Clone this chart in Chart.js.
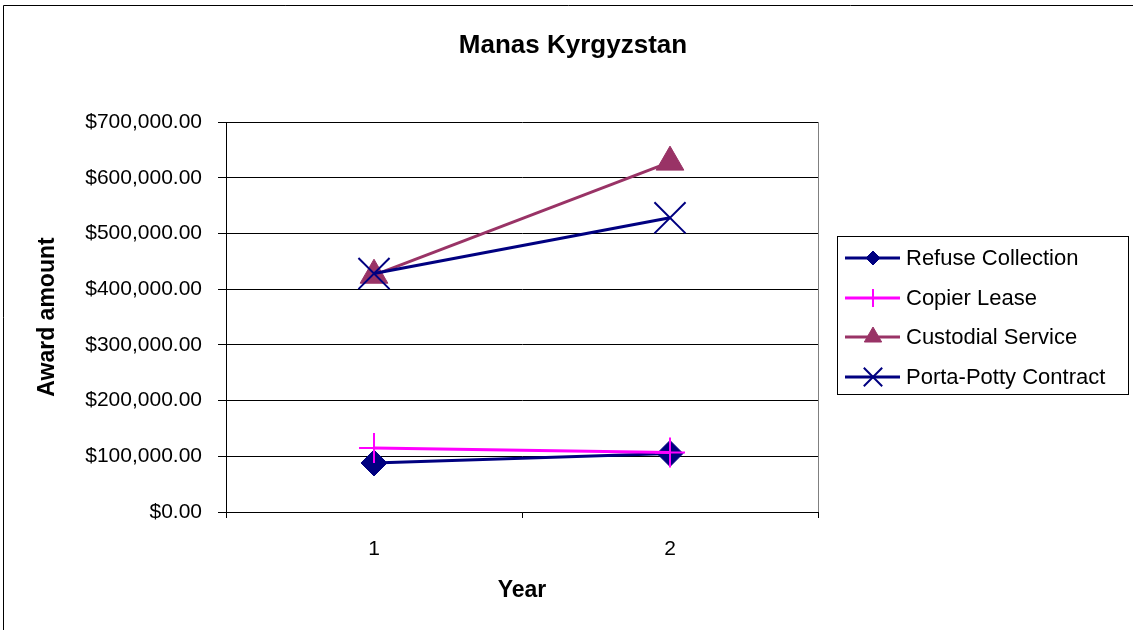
<!DOCTYPE html>
<html>
<head>
<meta charset="utf-8">
<title>Manas Kyrgyzstan</title>
<script src="https://cdn.jsdelivr.net/npm/chart.js@4.4.1/dist/chart.umd.min.js"></script>
<style>
  html, body { margin: 0; padding: 0; background: #fff; }
  #wrap { position: relative; width: 1133px; height: 630px; }
</style>
</head>
<body>
<div id="wrap"><canvas id="chart"></canvas></div>
<script>
const chartTitle = 'Manas Kyrgyzstan';
const years = ['1', '2'];
const refuseCollection = [88000, 105000];
const copierLease = [115000, 107000];
const custodialService = [425000, 628000];
const portaPottyContract = [428000, 528000];

const FONT = "'Liberation Sans', Arial, sans-serif";

function money(v) {
  return '$' + Number(v).toLocaleString('en-US', { minimumFractionDigits: 2, maximumFractionDigits: 2 });
}

// outer frame (only top and left edges show in the original) + title over the whole width
const framePlugin = {
  id: 'frame',
  beforeDraw(chart) {
    const ctx = chart.ctx;
    ctx.save();
    ctx.strokeStyle = '#000';
    ctx.lineWidth = 1;
    ctx.beginPath();
    ctx.moveTo(3.5, 630);
    ctx.lineTo(3.5, 5.5);
    ctx.lineTo(1133, 5.5);
    ctx.stroke();
    ctx.fillStyle = '#000';
    ctx.font = 'bold 26px ' + FONT;
    ctx.textAlign = 'center';
    ctx.textBaseline = 'middle';
    ctx.fillText(chartTitle, 573, 46);
    ctx.restore();
  },
  beforeDatasetsDraw(chart) {
    const { ctx, chartArea } = chart;
    ctx.save();
    ctx.strokeStyle = '#808080';
    ctx.lineWidth = 1;
    ctx.beginPath();
    ctx.moveTo(Math.round(chartArea.right) + 0.5, chartArea.top);
    ctx.lineTo(Math.round(chartArea.right) + 0.5, chartArea.bottom);
    ctx.stroke();
    ctx.restore();
  }
};

// boxed legend with line + marker samples, like the spreadsheet one
const boxLegend = {
  id: 'boxLegend',
  afterDraw(chart) {
    const ctx = chart.ctx;
    const box = { x: 837.5, y: 236.5, w: 291, h: 158 };
    ctx.save();
    ctx.fillStyle = '#fff';
    ctx.fillRect(box.x, box.y, box.w, box.h);
    ctx.strokeStyle = '#000';
    ctx.lineWidth = 1;
    ctx.strokeRect(box.x, box.y, box.w, box.h);
    const rows = [258, 298, 337, 377];
    chart.data.datasets.forEach((ds, i) => {
      const y = rows[i];
      ctx.strokeStyle = ds.borderColor;
      ctx.lineWidth = 3;
      ctx.beginPath();
      ctx.moveTo(845, y);
      ctx.lineTo(900, y);
      ctx.stroke();
      const opts = {
        pointStyle: ds.pointStyle,
        radius: ds.legendRadius,
        rotation: 0,
        borderWidth: ds.pointBorderWidth
      };
      ctx.fillStyle = ds.pointBackgroundColor;
      ctx.strokeStyle = ds.borderColor;
      ctx.lineWidth = ds.pointBorderWidth;
      Chart.helpers.drawPoint(ctx, opts, 873, y);
      ctx.fillStyle = '#000';
      ctx.font = '22px ' + FONT;
      ctx.textBaseline = 'middle';
      ctx.textAlign = 'left';
      ctx.fillText(ds.label, 906, y + 1);
    });
    ctx.restore();
  }
};

new Chart(document.getElementById('chart'), {
  type: 'line',
  data: {
    labels: years,
    datasets: [
      {
        label: 'Refuse Collection',
        data: refuseCollection,
        borderColor: '#000080',
        backgroundColor: '#000080',
        pointBackgroundColor: '#000080',
        pointStyle: 'rectRot',
        pointRadius: 13,
        legendRadius: 7,
        pointBorderWidth: 1,
        borderWidth: 3,
        order: 3
      },
      {
        label: 'Copier Lease',
        data: copierLease,
        borderColor: '#FF00FF',
        backgroundColor: '#FF00FF',
        pointBackgroundColor: '#FF00FF',
        pointStyle: 'cross',
        pointRadius: 15,
        legendRadius: 9,
        pointBorderWidth: 2,
        borderWidth: 3,
        order: 1
      },
      {
        label: 'Custodial Service',
        data: custodialService,
        borderColor: '#993366',
        backgroundColor: '#993366',
        pointBackgroundColor: '#993366',
        pointStyle: 'triangle',
        pointRadius: 16,
        legendRadius: 10,
        pointBorderWidth: 1,
        borderWidth: 3,
        order: 2
      },
      {
        label: 'Porta-Potty Contract',
        data: portaPottyContract,
        borderColor: '#000080',
        backgroundColor: '#000080',
        pointBackgroundColor: '#000080',
        pointStyle: 'crossRot',
        pointRadius: 22,
        legendRadius: 13,
        pointBorderWidth: 2,
        borderWidth: 3,
        order: 0
      }
    ]
  },
  options: {
    responsive: true,
    maintainAspectRatio: false,
    animation: false,
    layout: { padding: { left: 0, right: 315, top: 122, bottom: 0 } },
    elements: { line: { tension: 0 }, point: { hoverRadius: 13 } },
    plugins: {
      legend: { display: false },
      tooltip: { enabled: false },
      title: { display: false }
    },
    scales: {
      x: {
        offset: true,
        afterFit(scale) { scale.height = 118; },
        grid: {
          offset: true,
          drawOnChartArea: false,
          drawTicks: true,
          tickLength: 6,
          color: '#000'
        },
        border: { color: '#000', width: 1 },
        ticks: {
          color: '#000',
          padding: 19,
          font: { family: FONT, size: 21 }
        },
        title: {
          display: true,
          text: 'Year',
          color: '#000',
          font: { family: FONT, size: 23, weight: 'bold' },
          padding: { top: 0, bottom: 26 }
        }
      },
      y: {
        min: 0,
        max: 700000,
        afterFit(scale) { scale.width = 226; },
        grid: {
          color: '#000',
          lineWidth: 1,
          tickLength: 8
        },
        border: { color: '#000', width: 1 },
        ticks: {
          stepSize: 100000,
          color: '#000',
          padding: 16,
          font: { family: FONT, size: 21 },
          callback: v => money(v)
        },
        title: {
          display: true,
          text: 'Award amount',
          color: '#000',
          font: { family: FONT, size: 23, weight: 'bold' },
          padding: { top: 34, bottom: 0 }
        }
      }
    }
  },
  plugins: [framePlugin, boxLegend]
});
</script>
</body>
</html>
